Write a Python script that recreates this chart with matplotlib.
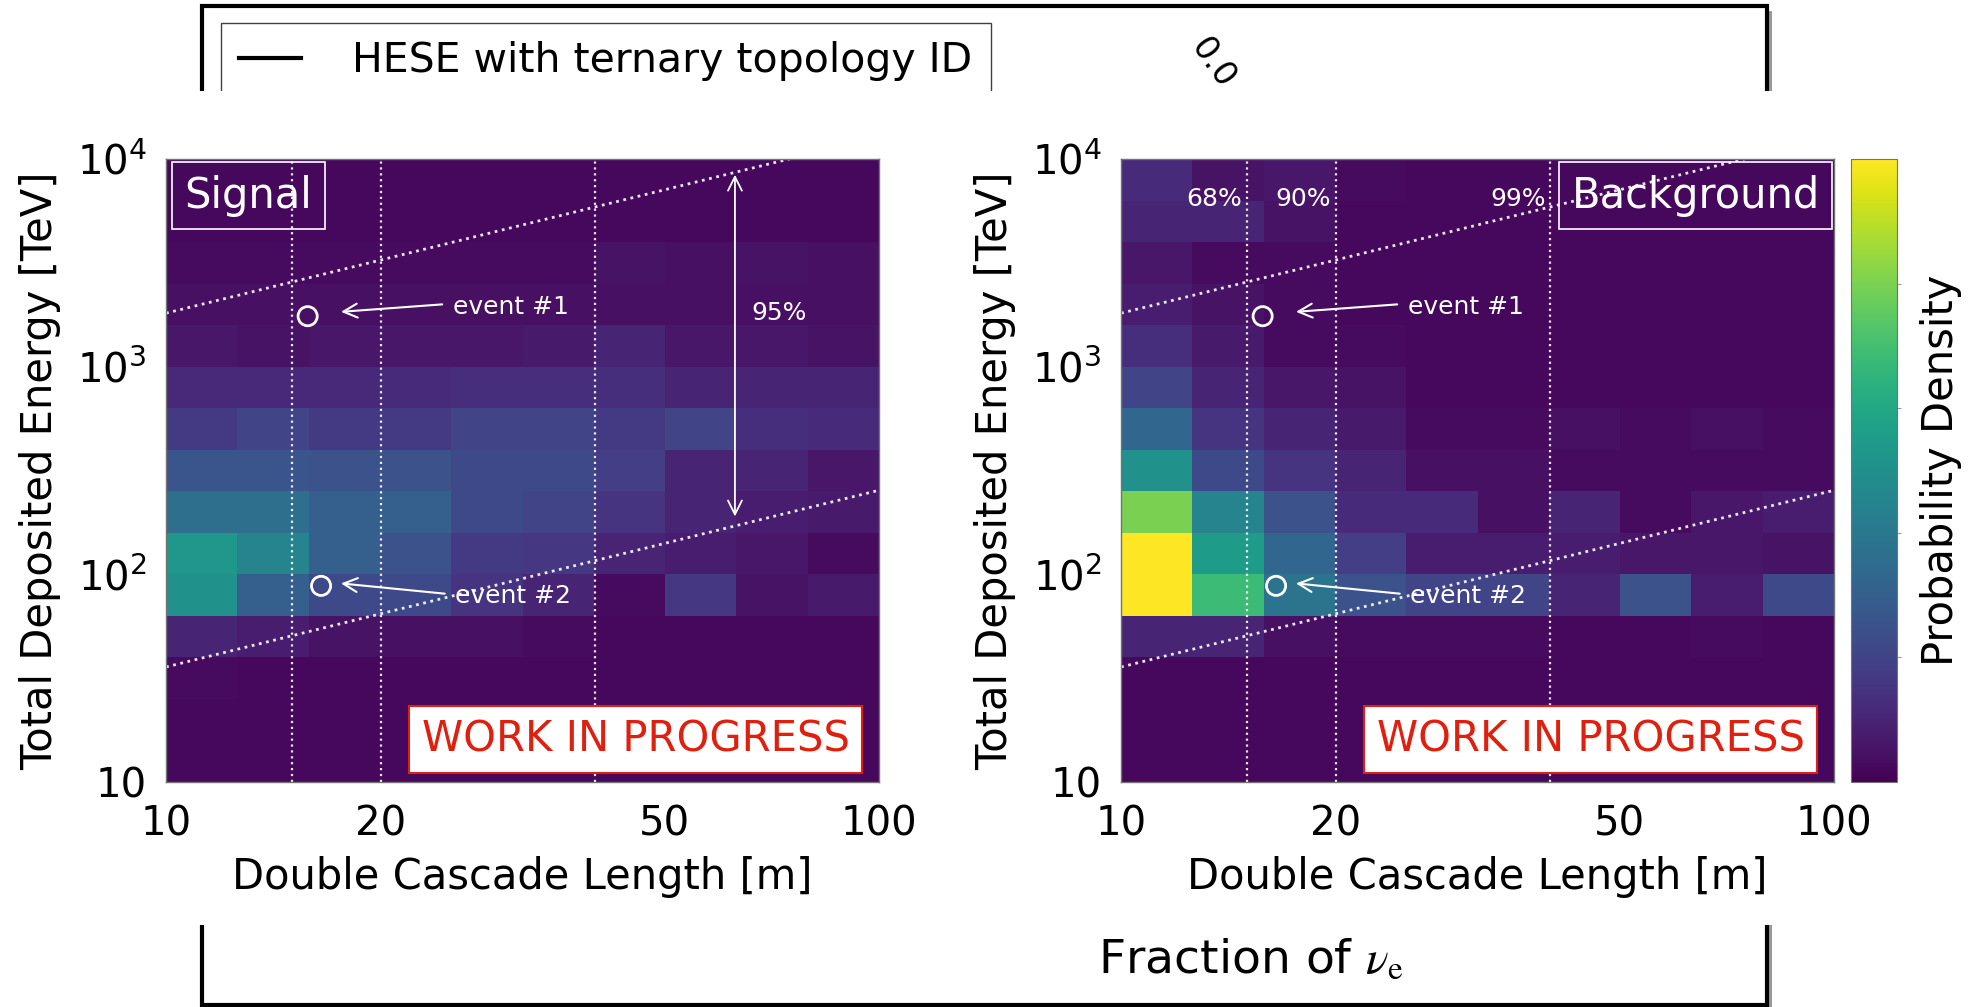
import numpy as np
import matplotlib
matplotlib.use('Agg')
import matplotlib.pyplot as plt
from matplotlib.patches import Rectangle
from matplotlib.lines import Line2D

W, H = 1982, 1007

# binning of the two histograms
length_edges = np.logspace(1, 2, 11)   # double cascade length [m]
energy_edges = np.logspace(1, 4, 16)   # total deposited energy [TeV]

# probability density, rows from 10 TeV (bottom) up to 10^4 TeV (top)
signal_density = [
    [0.02, 0.02, 0.02, 0.02, 0.02, 0.02, 0.02, 0.02, 0.02, 0.02],
    [0.02, 0.02, 0.02, 0.02, 0.02, 0.02, 0.02, 0.02, 0.02, 0.02],
    [0.03, 0.02, 0.02, 0.02, 0.02, 0.02, 0.02, 0.02, 0.02, 0.02],
    [0.10, 0.08, 0.05, 0.04, 0.04, 0.03, 0.02, 0.02, 0.02, 0.02],
    [0.50, 0.30, 0.22, 0.22, 0.15, 0.10, 0.03, 0.16, 0.05, 0.07],
    [0.53, 0.45, 0.30, 0.25, 0.17, 0.16, 0.10, 0.08, 0.06, 0.03],
    [0.36, 0.36, 0.30, 0.30, 0.22, 0.20, 0.15, 0.10, 0.08, 0.07],
    [0.26, 0.26, 0.25, 0.25, 0.22, 0.22, 0.18, 0.10, 0.10, 0.06],
    [0.17, 0.20, 0.17, 0.17, 0.20, 0.20, 0.17, 0.20, 0.13, 0.12],
    [0.11, 0.11, 0.11, 0.12, 0.13, 0.13, 0.13, 0.10, 0.10, 0.10],
    [0.06, 0.05, 0.06, 0.06, 0.06, 0.07, 0.10, 0.06, 0.06, 0.05],
    [0.04, 0.04, 0.04, 0.04, 0.04, 0.04, 0.04, 0.04, 0.04, 0.04],
    [0.03, 0.03, 0.03, 0.03, 0.03, 0.03, 0.05, 0.04, 0.05, 0.04],
    [0.02, 0.02, 0.02, 0.02, 0.02, 0.02, 0.02, 0.02, 0.02, 0.02],
    [0.02, 0.02, 0.02, 0.02, 0.02, 0.02, 0.02, 0.02, 0.02, 0.02],
]
background_density = [
    [0.02, 0.02, 0.02, 0.02, 0.02, 0.02, 0.02, 0.02, 0.02, 0.02],
    [0.02, 0.02, 0.02, 0.02, 0.02, 0.02, 0.02, 0.02, 0.02, 0.02],
    [0.02, 0.02, 0.02, 0.02, 0.02, 0.02, 0.02, 0.02, 0.02, 0.02],
    [0.10, 0.10, 0.04, 0.03, 0.03, 0.03, 0.02, 0.02, 0.03, 0.02],
    [1.00, 0.68, 0.38, 0.25, 0.20, 0.20, 0.10, 0.25, 0.08, 0.22],
    [1.00, 0.55, 0.33, 0.18, 0.08, 0.08, 0.08, 0.06, 0.06, 0.05],
    [0.80, 0.45, 0.25, 0.12, 0.12, 0.04, 0.10, 0.03, 0.06, 0.08],
    [0.50, 0.22, 0.15, 0.10, 0.04, 0.04, 0.03, 0.03, 0.03, 0.03],
    [0.33, 0.15, 0.10, 0.07, 0.03, 0.03, 0.04, 0.03, 0.04, 0.03],
    [0.20, 0.10, 0.06, 0.05, 0.02, 0.02, 0.02, 0.02, 0.02, 0.02],
    [0.13, 0.07, 0.03, 0.03, 0.02, 0.02, 0.02, 0.02, 0.02, 0.02],
    [0.08, 0.05, 0.03, 0.02, 0.02, 0.02, 0.02, 0.02, 0.02, 0.02],
    [0.06, 0.03, 0.03, 0.02, 0.02, 0.02, 0.02, 0.02, 0.02, 0.02],
    [0.10, 0.10, 0.05, 0.02, 0.02, 0.02, 0.02, 0.02, 0.02, 0.02],
    [0.12, 0.05, 0.06, 0.03, 0.02, 0.02, 0.02, 0.02, 0.02, 0.02],
]

# containment lines and events
contour_lengths = [15, 20, 40]
contour_labels = ['68%', '90%', '99%']
band_x = [10, 100]
band_upper = [1810, 12800]
band_lower = [35.8, 254]
event_x = [15.8, 16.5]
event_y = [1750, 88]
event_names = ['event #1', 'event #2']
arrow_heads = [(17.6, 1837), (17.6, 90.4)]
arrow_tails = [(24.4, 1995), (24.6, 80.7)]

x_ticks = [10, 20, 50, 100]
y_ticks = [10, 100, 1000, 10000]
y_ticklabels = ['10', '$10^2$', '$10^3$', '$10^4$']

fig = plt.figure(figsize=(W / 100, H / 100), dpi=100)

# ---- the plot underneath (mostly covered) ----
bg = fig.add_axes([0, 0, 1, 1])
bg.set_xlim(0, W)
bg.set_ylim(H, 0)
bg.axis('off')
bg.add_patch(Rectangle((207, 11), 1565, 999, fc='0.6', ec='none', zorder=1))
bg.add_patch(Rectangle((202, 6), 1565, 999, fc='white', ec='black', lw=3, zorder=2))
bg.text(1213, 63, '0.0', fontsize=24, rotation=-55, ha='center', va='center', zorder=3)
bg.text(1251, 961, r'Fraction of $\nu_{\mathrm{e}}$', fontsize=34, ha='center',
        va='center', math_fontfamily='stix', zorder=3)
handle = Line2D([], [], color='black', lw=3)
leg = bg.legend([handle], ['HESE with ternary topology ID'], loc='upper left',
                bbox_to_anchor=(221 / W, 1 - 23 / H), bbox_transform=fig.transFigure,
                borderaxespad=0, fancybox=False, framealpha=1, edgecolor='0.25',
                fontsize=29.5, handlelength=1.5, handletextpad=1.25, borderpad=0.45)
leg.set_zorder(4)
bg.add_patch(Rectangle((0, 91), W, 834, fc='white', ec='none', zorder=10))

# ---- the two histograms pasted on top ----
ax_w = 713 / W
ax_h = 623 / H
ax_b = (H - 782) / H
ax_sig = fig.add_axes([166 / W, ax_b, ax_w, ax_h])
ax_bkg = fig.add_axes([1121 / W, ax_b, ax_w, ax_h])
cax = fig.add_axes([1851 / W, ax_b, 46 / W, ax_h])

panels = [(ax_sig, signal_density, 'Signal'), (ax_bkg, background_density, 'Background')]
for ax, density, name in panels:
    mesh = ax.pcolormesh(length_edges, energy_edges, np.array(density),
                         cmap='viridis', vmin=0, vmax=1)
    ax.set_xscale('log')
    ax.set_yscale('log')
    ax.set_xlim(10, 100)
    ax.set_ylim(10, 1e4)
    ax.set_xticks(x_ticks)
    ax.set_xticklabels([str(t) for t in x_ticks])
    ax.set_yticks(y_ticks)
    ax.set_yticklabels(y_ticklabels)
    ax.minorticks_off()
    ax.tick_params(length=0, labelsize=29)
    ax.tick_params(axis='x', pad=16)
    ax.tick_params(axis='y', pad=14)
    for s in ax.spines.values():
        s.set_color('0.45')
        s.set_linewidth(1)
    ax.set_xlabel('Double Cascade Length [m]', fontsize=30)
    ax.set_ylabel('Total Deposited Energy [TeV]', fontsize=30)
    ax.xaxis.set_label_coords(0.5, -0.118)
    ax.yaxis.set_label_coords(-0.147, 0.5)

    for xl in contour_lengths:
        ax.axvline(xl, color='white', ls=':', lw=1.6, alpha=0.9)
    ax.plot(band_x, band_upper, color='white', ls=':', lw=2, alpha=0.9)
    ax.plot(band_x, band_lower, color='white', ls=':', lw=2, alpha=0.9)

    ax.scatter(event_x, event_y, s=190, facecolors='none', edgecolors='white', lw=2, zorder=5)
    for nm, head, tail in zip(event_names, arrow_heads, arrow_tails):
        ax.annotate('', xy=head, xytext=tail,
                    arrowprops=dict(arrowstyle='->', color='white', lw=1.5,
                                    shrinkA=0, shrinkB=0, mutation_scale=25))
        ax.text(tail[0] * 1.035, tail[1] * 0.97, nm, color='white', fontsize=18,
                ha='left', va='center')

    if name == 'Signal':
        ax.text(0.026, 0.975, name, transform=ax.transAxes, color='white', fontsize=30,
                ha='left', va='top',
                bbox=dict(boxstyle='square,pad=0.3', fc='none', ec='white', lw=1.2))
    else:
        ax.text(0.98, 0.975, name, transform=ax.transAxes, color='white', fontsize=30,
                ha='right', va='top',
                bbox=dict(boxstyle='square,pad=0.3', fc='none', ec='white', lw=1.2))

    ax.text(0.659, 0.069, 'WORK IN PROGRESS', transform=ax.transAxes, color='#e0200f',
            fontsize=30, ha='center', va='center', zorder=6,
            bbox=dict(boxstyle='square,pad=0.3', fc='white', ec='#e0200f', lw=1.5))

# 95% band arrow on the signal side
ax_sig.annotate('', xy=(62.8, 8400), xytext=(62.8, 190),
                arrowprops=dict(arrowstyle='<->', color='white', lw=1.3,
                                shrinkA=0, shrinkB=0, mutation_scale=25))
ax_sig.text(72.5, 1810, '95%', color='white', fontsize=18, ha='center', va='center')

# containment labels on the background side
for xl, lab in zip(contour_lengths, contour_labels):
    ax_bkg.text(xl / 1.015, 6400, lab, color='white', fontsize=18, ha='right', va='center')

cb = fig.colorbar(mesh, cax=cax)
cb.set_ticks([0.2, 0.4, 0.6, 0.8])
cb.set_ticklabels([])
cb.ax.tick_params(length=3, color='0.6')
cb.outline.set_edgecolor('0.45')
cb.set_label('Probability Density', fontsize=30)
cb.ax.yaxis.set_label_coords(1.5, 0.5)

fig.savefig('out.png', dpi=100)
